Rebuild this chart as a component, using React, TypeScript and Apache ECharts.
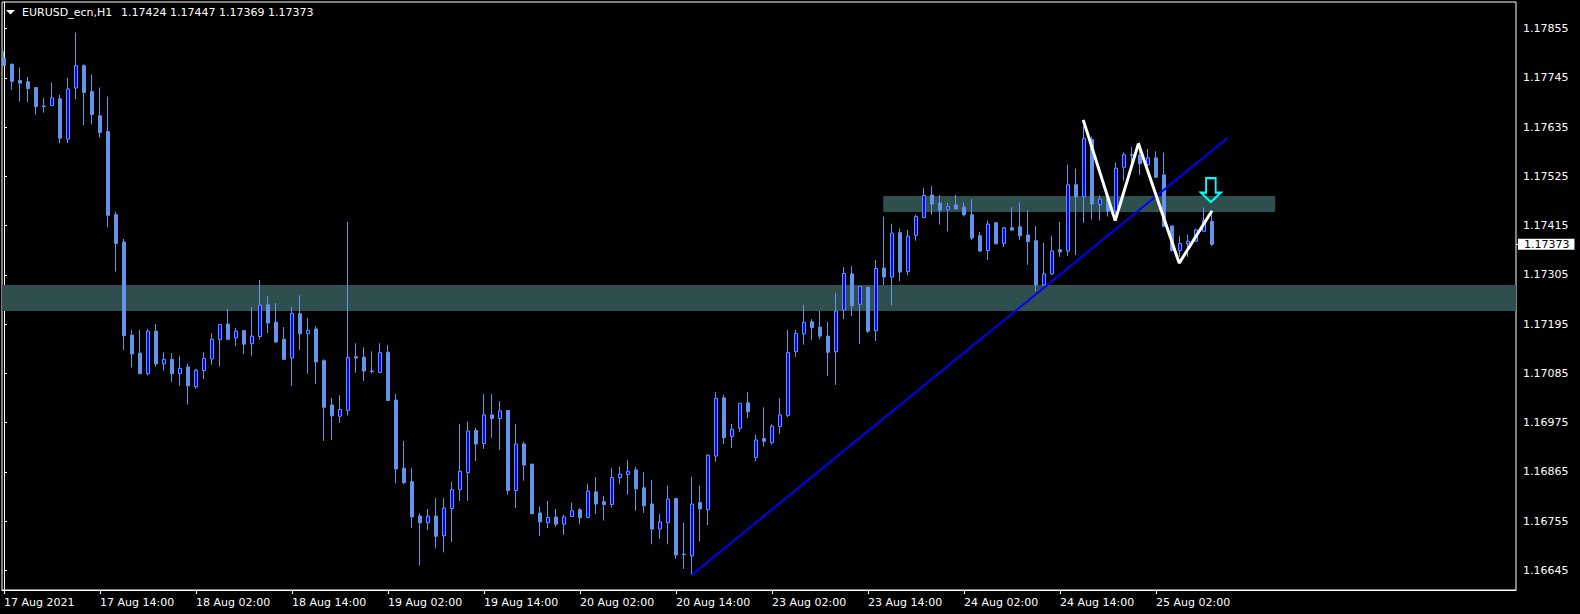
import React, { useEffect, useRef } from "react";
import * as echarts from "echarts";

// ---- Data (EURUSD_ecn, H1) ----
const opens = [
  1.17788, 1.17775, 1.17739, 1.17736, 1.17723, 1.17682, 1.17683, 1.17698, 1.17608, 1.17722,
  1.17772, 1.17714, 1.1766, 1.17625, 1.17439, 1.17378, 1.1717, 1.1713, 1.17084, 1.17179,
  1.17106, 1.17116, 1.17084, 1.17099, 1.17055, 1.17091, 1.17117, 1.1716, 1.17195, 1.17164,
  1.1718, 1.17151, 1.17167, 1.17238, 1.17199, 1.17161, 1.17119, 1.17218, 1.17174, 1.17184,
  1.17113, 1.17014, 1.16989, 1.17002, 1.17122, 1.17121, 1.1709, 1.17087, 1.17132, 1.17025,
  1.16873, 1.16843, 1.16766, 1.16751, 1.16766, 1.16722, 1.16783, 1.16825, 1.16863, 1.16957,
  1.16928, 1.16992, 1.16984, 1.17002, 1.16823, 1.16927, 1.16882, 1.16773, 1.16751, 1.16764,
  1.16748, 1.16765, 1.1678, 1.16763, 1.1682, 1.16798, 1.16792, 1.16852, 1.16859, 1.16869,
  1.16829, 1.16793, 1.16737, 1.16751, 1.16805, 1.16681, 1.16677, 1.16796, 1.1678, 1.169,
  1.1703, 1.16944, 1.16962, 1.17019, 1.16897, 1.16939, 1.1693, 1.16966, 1.16991, 1.17133,
  1.17173, 1.172, 1.17188, 1.17168, 1.17133, 1.17226, 1.17307, 1.17239, 1.17277, 1.1718,
  1.1732, 1.173, 1.17399, 1.17312, 1.17393, 1.17433, 1.17483, 1.17465, 1.17451, 1.17461,
  1.17456, 1.17439, 1.17392, 1.17359, 1.17421, 1.17375, 1.1741, 1.17412, 1.17394, 1.17381,
  1.17282, 1.17307, 1.17361, 1.17358, 1.17506, 1.17479, 1.17607, 1.17462, 1.17476, 1.17447,
  1.17545, 1.17573, 1.17572, 1.17551, 1.17566, 1.17528, 1.17414, 1.17359, 1.17374, 1.1738,
  1.17402, 1.17424,
];
const closes = [
  1.17773, 1.17737, 1.17733, 1.17721, 1.17681, 1.17681, 1.177, 1.1761, 1.1772, 1.17772,
  1.17712, 1.17663, 1.17623, 1.17438, 1.17375, 1.17169, 1.17128, 1.17084, 1.17179, 1.17106,
  1.17116, 1.17084, 1.17096, 1.17057, 1.17092, 1.17118, 1.17161, 1.17194, 1.17161, 1.17179,
  1.1715, 1.17168, 1.17237, 1.17197, 1.17155, 1.17116, 1.17219, 1.17173, 1.17181, 1.1711,
  1.17009, 1.1699, 1.17004, 1.1712, 1.17119, 1.1709, 1.17089, 1.17131, 1.17024, 1.16871,
  1.16841, 1.16764, 1.16751, 1.16766, 1.16721, 1.16784, 1.16825, 1.16866, 1.16956, 1.16927,
  1.16992, 1.16984, 1.17001, 1.16823, 1.16927, 1.1688, 1.16771, 1.16753, 1.16763, 1.16748,
  1.16764, 1.16778, 1.16762, 1.16822, 1.16793, 1.16792, 1.16852, 1.1686, 1.16866, 1.16827,
  1.16789, 1.16737, 1.16753, 1.16804, 1.16679, 1.1668, 1.16793, 1.16782, 1.16902, 1.17029,
  1.16941, 1.1696, 1.17018, 1.16999, 1.16936, 1.16933, 1.16967, 1.16992, 1.17131, 1.17174,
  1.17199, 1.17187, 1.17168, 1.17132, 1.17224, 1.17308, 1.17236, 1.17279, 1.17179, 1.17319,
  1.173, 1.17398, 1.17311, 1.17391, 1.17435, 1.17482, 1.17463, 1.17449, 1.17457, 1.17452,
  1.17439, 1.17387, 1.17358, 1.17418, 1.17374, 1.1741, 1.17405, 1.17392, 1.17379, 1.17282,
  1.17307, 1.17358, 1.17356, 1.17506, 1.17479, 1.17609, 1.17463, 1.17474, 1.17447, 1.17543,
  1.17573, 1.17572, 1.17553, 1.17566, 1.17523, 1.17413, 1.17359, 1.17375, 1.1738, 1.17405,
  1.17426, 1.17373,
];
const lows = [
  1.17771, 1.17718, 1.17692, 1.1769, 1.17663, 1.17667, 1.17683, 1.17599, 1.17599, 1.17697,
  1.17639, 1.17641, 1.17612, 1.17411, 1.17312, 1.17137, 1.17098, 1.17084, 1.1708, 1.171,
  1.17091, 1.17066, 1.17057, 1.17015, 1.1705, 1.17072, 1.17104, 1.171, 1.17159, 1.17146,
  1.17128, 1.17124, 1.1716, 1.17175, 1.17152, 1.17116, 1.17057, 1.17137, 1.17084, 1.17061,
  1.16934, 1.16936, 1.16974, 1.1699, 1.17086, 1.17068, 1.17084, 1.17085, 1.17024, 1.16839,
  1.16837, 1.16739, 1.16656, 1.16735, 1.16694, 1.16685, 1.16708, 1.168, 1.168, 1.16889,
  1.16916, 1.16941, 1.16914, 1.16814, 1.16784, 1.16845, 1.16771, 1.16721, 1.16739, 1.16742,
  1.16724, 1.16765, 1.16748, 1.16763, 1.16771, 1.16756, 1.16785, 1.16838, 1.16814, 1.16778,
  1.16773, 1.16703, 1.16715, 1.16703, 1.16671, 1.16648, 1.16635, 1.1671, 1.16746, 1.16887,
  1.16927, 1.16918, 1.16954, 1.16985, 1.16889, 1.16921, 1.16926, 1.1695, 1.16987, 1.17122,
  1.17149, 1.17159, 1.17161, 1.17079, 1.17059, 1.17206, 1.17213, 1.1715, 1.17175, 1.17157,
  1.17282, 1.17236, 1.17291, 1.17304, 1.17381, 1.17433, 1.17439, 1.17417, 1.17402, 1.17452,
  1.17435, 1.17383, 1.17356, 1.17338, 1.17374, 1.17367, 1.17403, 1.17383, 1.17327, 1.17268,
  1.1728, 1.17304, 1.17345, 1.17347, 1.17349, 1.17421, 1.17428, 1.17426, 1.17435, 1.17439,
  1.17515, 1.17554, 1.17528, 1.17547, 1.17521, 1.17413, 1.17357, 1.17345, 1.17345, 1.17378,
  1.17402, 1.17369,
];
const highs = [
  1.17804, 1.17777, 1.17768, 1.17747, 1.17723, 1.177, 1.17734, 1.17707, 1.17745, 1.17846,
  1.17775, 1.17752, 1.17723, 1.17703, 1.17446, 1.17385, 1.17182, 1.17182, 1.17184, 1.17195,
  1.17132, 1.1713, 1.17123, 1.17106, 1.17095, 1.17132, 1.17174, 1.17194, 1.17229, 1.17186,
  1.17182, 1.17233, 1.17293, 1.17257, 1.17242, 1.17188, 1.17233, 1.17259, 1.17209, 1.1719,
  1.17116, 1.1703, 1.17036, 1.17423, 1.17152, 1.17143, 1.17134, 1.17152, 1.17148, 1.17039,
  1.16934, 1.16873, 1.16772, 1.16782, 1.16806, 1.16806, 1.16843, 1.16972, 1.16977, 1.16963,
  1.17039, 1.17039, 1.17023, 1.17002, 1.16972, 1.16932, 1.16882, 1.16787, 1.168, 1.16782,
  1.16769, 1.16796, 1.16784, 1.16838, 1.16853, 1.16811, 1.16873, 1.16876, 1.16891, 1.16876,
  1.16864, 1.16847, 1.16771, 1.16834, 1.16807, 1.16751, 1.16854, 1.16834, 1.16904, 1.17043,
  1.17037, 1.16972, 1.17018, 1.17043, 1.16948, 1.17009, 1.16971, 1.17029, 1.17182, 1.17182,
  1.17238, 1.17206, 1.17224, 1.172, 1.17264, 1.17322, 1.17324, 1.17279, 1.17279, 1.17338,
  1.17435, 1.17419, 1.17408, 1.17405, 1.17439, 1.17499, 1.17503, 1.17483, 1.17465, 1.17483,
  1.17467, 1.17474, 1.17401, 1.17426, 1.17423, 1.17412, 1.17456, 1.17467, 1.17449, 1.17414,
  1.17376, 1.17392, 1.17423, 1.17551, 1.17542, 1.17637, 1.17614, 1.17482, 1.17487, 1.17556,
  1.17578, 1.17591, 1.17601, 1.17586, 1.17581, 1.17578, 1.17414, 1.17392, 1.17394, 1.17408,
  1.17455, 1.17447,
];

const timeLabelIndex = [0, 12, 24, 36, 48, 60, 72, 84, 96, 108, 120, 132, 144];
const timeLabels = [
  "17 Aug 2021", "17 Aug 14:00", "18 Aug 02:00", "18 Aug 14:00", "19 Aug 02:00",
  "19 Aug 14:00", "20 Aug 02:00", "20 Aug 14:00", "23 Aug 02:00", "23 Aug 14:00",
  "24 Aug 02:00", "24 Aug 14:00", "25 Aug 02:00",
];
const priceTicks = [
  1.16645, 1.16755, 1.16865, 1.16975, 1.17085, 1.17195, 1.17305, 1.17415, 1.17525,
  1.17635, 1.17745, 1.17855,
];

const supportZone = [1.17224, 1.17282];
const resistanceZoneBars = [109.9, 158.9];
const resistanceZonePrices = [1.17445, 1.17481];
const trendLine = [
  [86, 1.16635],
  [152.9, 1.1761],
];
const zigzag = [
  [134.9, 1.17651],
  [138.9, 1.17426],
  [141.8, 1.17598],
  [146.9, 1.17331],
  [151, 1.17448],
];
const sellArrow = [[150.86, 1.17494]];

const symbolName = "EURUSD_ecn,H1";

export default function App() {
  const ref = useRef<HTMLDivElement>(null);

  useEffect(() => {
    if (!ref.current) return;
    const chart = echarts.init(ref.current, undefined, { renderer: "svg" });
    const last = opens.length - 1;
    const lastClose = closes[last];
    const candles = opens.map((o, i) => [i, o, closes[i], lows[i], highs[i]]);
    const font = "DejaVu Sans";
    const header = [opens[last], highs[last], lows[last], closes[last]]
      .map((v) => v.toFixed(5))
      .join(" ");

    const yMin = 1.166009;
    const yMax = 1.179142;

    chart.setOption({
      animation: false,
      backgroundColor: "#000000",
      grid: {
        left: 2,
        top: 2,
        right: 64,
        bottom: 24,
        show: true,
        borderColor: "#ffffff",
        borderWidth: 1,
        backgroundColor: "#000000",
      },
      xAxis: {
        type: "value",
        min: -0.25,
        max: 189,
        splitLine: { show: false },
        axisLine: { show: true, lineStyle: { color: "#ffffff", width: 1 } },
        axisTick: {
          show: true,
          customValues: timeLabelIndex,
          length: 4,
          lineStyle: { color: "#ffffff" },
        },
        axisLabel: {
          customValues: timeLabelIndex,
          formatter: (v: number) => timeLabels[timeLabelIndex.indexOf(Math.round(v))] ?? "",
          color: "#ffffff",
          fontFamily: font,
          fontSize: 11,
          align: "left",
          margin: 7,
        },
      },
      yAxis: [
        {
          type: "value",
          position: "right",
          min: yMin,
          max: yMax,
          splitLine: { show: false },
          axisLine: { show: true, lineStyle: { color: "#ffffff" } },
          axisTick: {
            show: true,
            customValues: priceTicks,
            length: 3,
            lineStyle: { color: "#ffffff" },
          },
          axisLabel: {
            customValues: priceTicks,
            formatter: (v: number) => v.toFixed(5),
            color: "#ffffff",
            fontFamily: font,
            fontSize: 11,
            margin: 7,
          },
        },
        {
          type: "value",
          position: "right",
          min: yMin,
          max: yMax,
          splitLine: { show: false },
          axisLine: { show: false },
          axisTick: {
            show: true,
            customValues: [lastClose],
            length: 3,
            lineStyle: { color: "#ffffff" },
          },
          axisLabel: {
            customValues: [lastClose],
            formatter: (v: number) => v.toFixed(5),
            color: "#000000",
            backgroundColor: "#ffffff",
            padding: [0, 5, 0, 6],
            lineHeight: 11,
            fontFamily: font,
            fontSize: 11,
            margin: 2,
          },
        },
      ],
      graphic: [
        {
          type: "polygon",
          shape: { points: [[6, 10], [15, 10], [10.5, 14.5]] },
          style: { fill: "#ffffff" },
        },
        {
          type: "text",
          x: 22,
          y: 12,
          style: {
            text: symbolName,
            fill: "#ffffff",
            font: `11px "${font}"`,
            verticalAlign: "middle",
            align: "left",
          },
        },
        {
          type: "text",
          x: 121,
          y: 12,
          style: {
            text: header,
            fill: "#ffffff",
            font: `11px "${font}"`,
            verticalAlign: "middle",
            align: "left",
          },
        },
      ],
      series: [
        {
          type: "candlestick",
          name: symbolName,
          data: candles,
          barWidth: 4,
          barMaxWidth: 4,
          z: 2,
          itemStyle: {
            color: "#0000ff",
            color0: "#6495ed",
            borderColor: "#6495ed",
            borderColor0: "#6495ed",
            borderWidth: 1,
          },
          markArea: {
            silent: true,
            itemStyle: { color: "#2f4f4f" },
            data: [
              [{ yAxis: supportZone[0] }, { yAxis: supportZone[1] }],
              [
                { xAxis: resistanceZoneBars[0], yAxis: resistanceZonePrices[0] },
                { xAxis: resistanceZoneBars[1], yAxis: resistanceZonePrices[1] },
              ],
            ],
          },
        },
        {
          type: "line",
          data: trendLine,
          symbol: "none",
          z: 3,
          lineStyle: { color: "#0000ff", width: 2 },
        },
        {
          type: "line",
          data: zigzag,
          symbol: "none",
          z: 4,
          lineStyle: { color: "#ffffff", width: 3 },
        },
        {
          type: "scatter",
          data: sellArrow,
          symbol: "path://M26,0 L74,0 L74,60 L100,60 L50,100 L0,60 L26,60 Z",
          symbolSize: [20, 24],
          z: 5,
          itemStyle: {
            color: "rgba(0,0,0,0)",
            borderColor: "#00ffff",
            borderWidth: 2,
            opacity: 1,
          },
        },
      ],
    });
    return () => chart.dispose();
  }, []);

  return (
    <div
      ref={ref}
      style={{
        position: "absolute",
        left: 0,
        top: 0,
        width: 1580,
        height: 614,
        background: "#000000",
      }}
    />
  );
}
